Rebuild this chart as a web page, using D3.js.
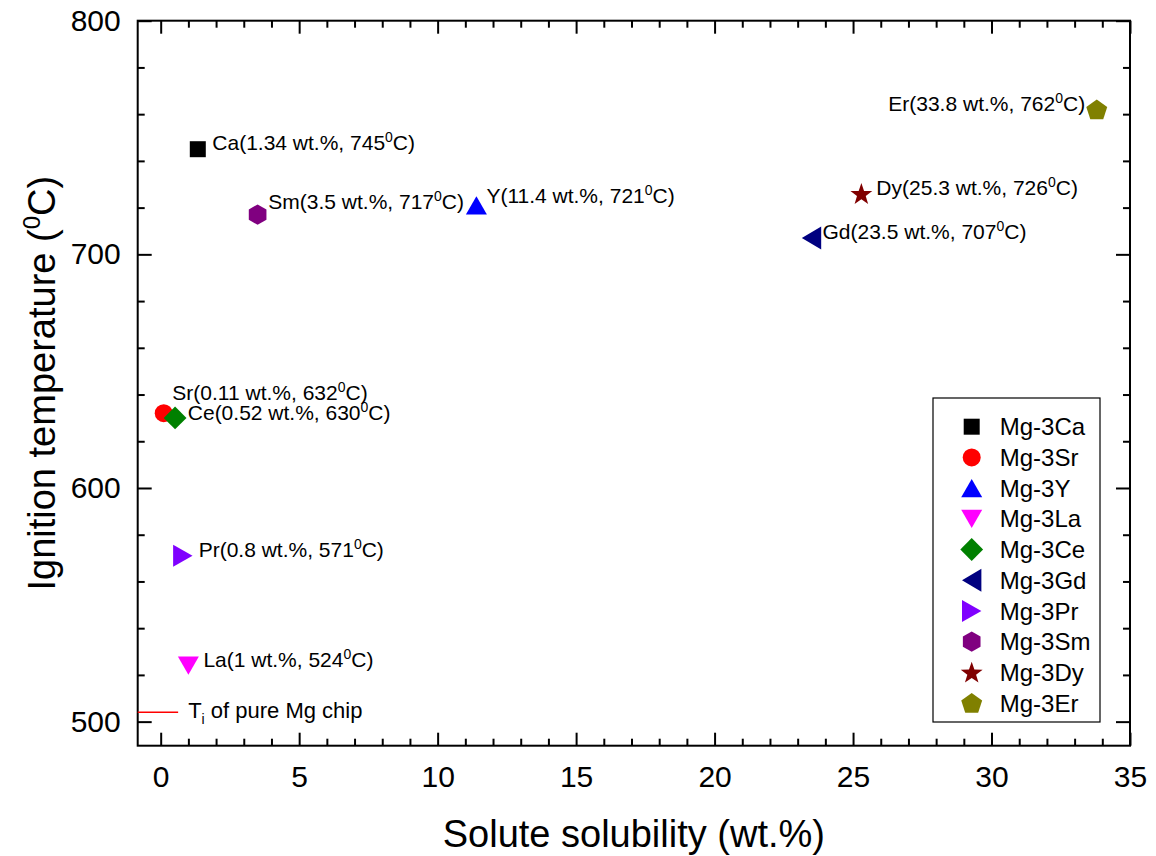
<!DOCTYPE html>
<html>
<head>
<meta charset="utf-8">
<script src="https://cdn.jsdelivr.net/npm/d3@7"></script>
<style>
  body { margin: 0; background: #fff; }
  svg text { font-family: "Liberation Sans", Arial, sans-serif; fill: #000; }
</style>
</head>
<body>
<svg width="1156" height="856"></svg>
<script>
// ---- data ----
var elements = ["Ca", "Sr", "Y", "La", "Ce", "Gd", "Pr", "Sm", "Dy", "Er"];
var solubility = [1.34, 0.11, 11.4, 1, 0.52, 23.5, 0.8, 3.5, 25.3, 33.8];
var ignitionTemp = [745, 632, 721, 524, 630, 707, 571, 717, 726, 762];
var legendNames = ["Mg-3Ca", "Mg-3Sr", "Mg-3Y", "Mg-3La", "Mg-3Ce", "Mg-3Gd", "Mg-3Pr", "Mg-3Sm", "Mg-3Dy", "Mg-3Er"];
var xTicks = [0, 5, 10, 15, 20, 25, 30, 35];
var yTicks = [500, 600, 700, 800];
var pureMgTemp = 504;
var pureMgSpan = [-0.83, 0.63];

// ---- styles ----
var colors = ["#000000", "#ff0000", "#0000ff", "#ff00ff", "#008000", "#000080", "#8000ff", "#800080", "#800000", "#808000"];
var shapes = ["square", "circle", "up", "down", "diamond", "left", "right", "hexagon", "star", "pentagon"];
// label offsets (px) from each marker, and anchor
var labelPos = [
  {dx: 14.5, dy: 1, anchor: "start"},
  {dx: 8.6, dy: -13.7, anchor: "start"},
  {dx: 10, dy: -2, anchor: "start"},
  {dx: 15, dy: 1, anchor: "start"},
  {dx: 12.7, dy: 2.3, anchor: "start"},
  {dx: 11, dy: 1.4, anchor: "start"},
  {dx: 15.8, dy: 1, anchor: "start"},
  {dx: 10.7, dy: -5.3, anchor: "start"},
  {dx: 15, dy: 1.5, anchor: "start"},
  {dx: -11.6, dy: 1.3, anchor: "end"}
];

var data = elements.map(function(e, i) {
  return {el: e, x: solubility[i], y: ignitionTemp[i], color: colors[i], shape: shapes[i], name: legendNames[i], pos: labelPos[i]};
});

var plotL = 137.7, plotR = 1130, plotT = 20.7, plotB = 745.7;

var xScale = d3.scaleLinear().domain([-0.83, 35]).range([plotL, plotR]);
var yScale = d3.scaleLinear().domain([489.7, 800]).range([plotB, plotT]);

var svg = d3.select("svg");

// marker shapes as path strings centred on 0,0
function poly(pts) { return "M" + pts.map(function(p) { return p[0].toFixed(2) + "," + p[1].toFixed(2); }).join("L") + "Z"; }
function regular(n, r, rot) {
  var pts = [];
  for (var k = 0; k < n; k++) {
    var a = rot + k * 2 * Math.PI / n;
    pts.push([r * Math.sin(a), -r * Math.cos(a)]);
  }
  return pts;
}
function markerPath(shape) {
  var s = 21, h = 18.2;
  switch (shape) {
    case "square": return poly([[-8, -8], [8, -8], [8, 8], [-8, 8]]);
    case "circle": return d3.symbol(d3.symbolCircle, Math.PI * 81)();
    case "up": return poly([[0, -h / 2], [s / 2, h / 2], [-s / 2, h / 2]]);
    case "down": return poly([[0, h / 2], [s / 2, -h / 2], [-s / 2, -h / 2]]);
    case "left": return poly([[-9.7, 0], [9.7, -11.5], [9.7, 11.5]]);
    case "right": return poly([[9.7, 0], [-9.7, -11], [-9.7, 11]]);
    case "diamond": return poly(regular(4, 11.4, 0));
    case "hexagon": return poly(regular(6, 10.2, 0));
    case "pentagon": return poly(regular(5, 11, 0).map(function(p) { return [p[0], p[1] + 0.9]; }));
    case "star":
      var pts = [];
      for (var k = 0; k < 10; k++) {
        var r = k % 2 === 0 ? 11.5 : 4.6;
        var a = k * Math.PI / 5;
        pts.push([r * Math.sin(a), -r * Math.cos(a) + 1]);
      }
      return poly(pts);
  }
}

// ---- axes ----
function minors(domain, step, majors) {
  var out = [];
  for (var v = Math.ceil(domain[0] / step) * step; v <= domain[1] + 1e-9; v += step) {
    if (majors.indexOf(Math.round(v * 1000) / 1000) < 0) out.push(v);
  }
  return out;
}
var xMinor = minors(xScale.domain(), 1, xTicks);
var yMinor = minors(yScale.domain(), 20, yTicks);

function styleAxis(g) {
  g.select(".domain").remove();
  g.selectAll(".tick line").attr("stroke", "#000").attr("stroke-width", 2);
  g.selectAll(".tick text").attr("font-size", 30).attr("fill", "#000");
}

svg.append("g").attr("transform", "translate(0," + plotB + ")")
  .call(d3.axisBottom(xScale).tickValues(xTicks).tickSize(-13).tickPadding(20).tickSizeOuter(0))
  .call(styleAxis);
svg.append("g").attr("transform", "translate(0," + plotB + ")")
  .call(d3.axisBottom(xScale).tickValues(xMinor).tickSize(-7).tickFormat("").tickSizeOuter(0))
  .call(styleAxis);
svg.append("g").attr("transform", "translate(0," + plotT + ")")
  .call(d3.axisTop(xScale).tickValues(xTicks).tickSize(-13).tickFormat("").tickSizeOuter(0))
  .call(styleAxis);
svg.append("g").attr("transform", "translate(0," + plotT + ")")
  .call(d3.axisTop(xScale).tickValues(xMinor).tickSize(-7).tickFormat("").tickSizeOuter(0))
  .call(styleAxis);

svg.append("g").attr("transform", "translate(" + plotL + ",0)")
  .call(d3.axisLeft(yScale).tickValues(yTicks).tickSize(-14).tickPadding(17).tickSizeOuter(0))
  .call(styleAxis);
svg.append("g").attr("transform", "translate(" + plotL + ",0)")
  .call(d3.axisLeft(yScale).tickValues(yMinor).tickSize(-7).tickFormat("").tickSizeOuter(0))
  .call(styleAxis);
svg.append("g").attr("transform", "translate(" + plotR + ",0)")
  .call(d3.axisRight(yScale).tickValues(yTicks).tickSize(-14).tickFormat("").tickSizeOuter(0))
  .call(styleAxis);
svg.append("g").attr("transform", "translate(" + plotR + ",0)")
  .call(d3.axisRight(yScale).tickValues(yMinor).tickSize(-7).tickFormat("").tickSizeOuter(0))
  .call(styleAxis);

// frame
svg.append("rect")
  .attr("x", plotL).attr("y", plotT)
  .attr("width", plotR - plotL).attr("height", plotB - plotT)
  .attr("fill", "none").attr("stroke", "#000").attr("stroke-width", 2);

// axis titles
svg.append("text")
  .attr("x", (plotL + plotR) / 2)
  .attr("y", 847)
  .attr("text-anchor", "middle")
  .attr("font-size", 38)
  .text("Solute solubility (wt.%)");

var yTitle = svg.append("text")
  .attr("transform", "translate(55," + ((plotT + plotB) / 2) + ") rotate(-90)")
  .attr("text-anchor", "middle")
  .attr("font-size", 38);
yTitle.append("tspan").text("Ignition temperature (");
yTitle.append("tspan").attr("font-size", 24).attr("dy", -15).text("0");
yTitle.append("tspan").attr("dy", 15).text("C)");

// pure Mg reference
svg.append("line")
  .attr("x1", xScale(pureMgSpan[0])).attr("x2", xScale(pureMgSpan[1]))
  .attr("y1", yScale(pureMgTemp)).attr("y2", yScale(pureMgTemp))
  .attr("stroke", "#ff0000").attr("stroke-width", 1.5);
var ti = svg.append("text")
  .attr("x", xScale(pureMgSpan[1]) + 10)
  .attr("y", yScale(pureMgTemp) + 6)
  .attr("font-size", 22);
ti.append("tspan").text("T");
ti.append("tspan").attr("font-size", 14).attr("dy", 6).text("i");
ti.append("tspan").attr("dy", -6).text(" of pure Mg chip");

// points
svg.selectAll("path.pt")
  .data(data)
  .enter()
  .append("path")
  .attr("class", "pt")
  .attr("transform", function(d) { return "translate(" + xScale(d.x) + "," + yScale(d.y) + ")"; })
  .attr("d", function(d) { return markerPath(d.shape); })
  .attr("fill", function(d) { return d.color; });

// point labels
var labels = svg.selectAll("text.lbl")
  .data(data)
  .enter()
  .append("text")
  .attr("class", "lbl")
  .attr("x", function(d) { return xScale(d.x) + d.pos.dx; })
  .attr("y", function(d) { return yScale(d.y) + d.pos.dy; })
  .attr("text-anchor", function(d) { return d.pos.anchor; })
  .attr("font-size", 21);
labels.append("tspan").text(function(d) { return d.el + "(" + d.x + " wt.%, " + d.y; });
labels.append("tspan").attr("font-size", 14).attr("dy", -8).text("0");
labels.append("tspan").attr("dy", 8).text("C)");

// legend
var legX = 933, legY = 398, legW = 167, legH = 324;
svg.append("rect")
  .attr("x", legX).attr("y", legY)
  .attr("width", legW).attr("height", legH)
  .attr("fill", "#fff").attr("stroke", "#000").attr("stroke-width", 1.2);

var legend = svg.selectAll("g.leg")
  .data(data)
  .enter()
  .append("g")
  .attr("class", "leg")
  .attr("transform", function(d, i) { return "translate(" + 971.7 + "," + (426.7 + i * 30.7) + ")"; });
legend.append("path")
  .attr("d", function(d) { return markerPath(d.shape); })
  .attr("fill", function(d) { return d.color; });
legend.append("text")
  .attr("x", 28)
  .attr("dy", "0.36em")
  .attr("font-size", 24)
  .text(function(d) { return d.name; });
</script>
</body>
</html>
